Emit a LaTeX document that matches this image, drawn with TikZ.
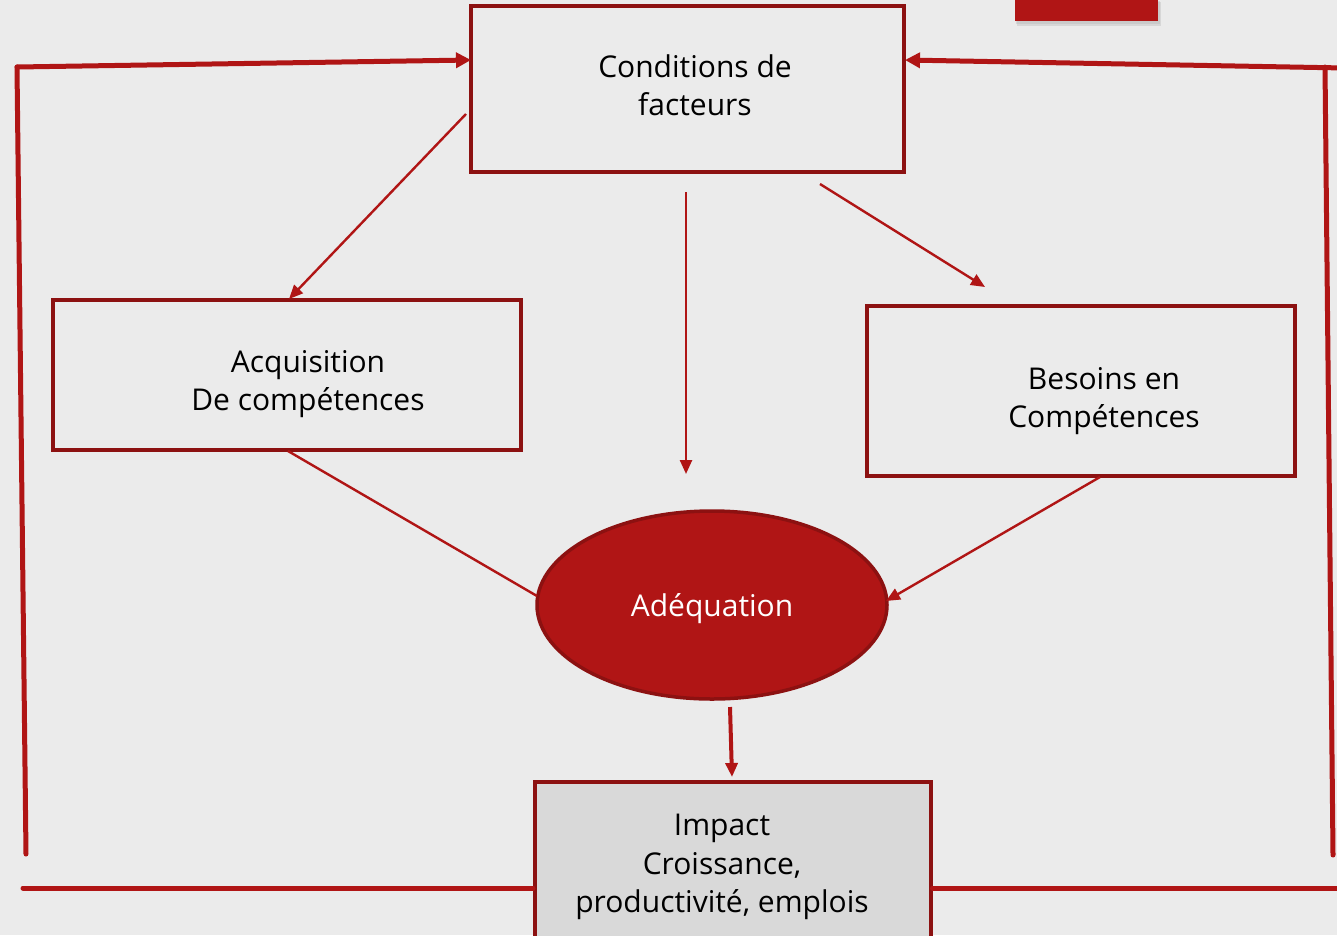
\documentclass[tikz,border=0pt]{standalone}
\usepackage{fontspec}
\setmainfont{Open Sans}
\usetikzlibrary{shapes.geometric,arrows.meta}
\definecolor{bg}{HTML}{EBEBEB}
\definecolor{boxred}{HTML}{8C1111}
\definecolor{linered}{HTML}{B01515}
\definecolor{impactfill}{HTML}{D9D9D9}
\tikzset{
  boxstyle/.style={draw=boxred, line width=3.5pt, fill=bg, rectangle, inner sep=0pt},
  lbl/.style={font=\fontsize{30}{38.5}\selectfont, align=center, text=black},
  conn/.style={draw=linered, line width=2.4pt, -{Triangle[length=14pt,width=12pt]}},
  plainconn/.style={draw=linered, line width=2.4pt},
  loop/.style={draw=linered, line width=5pt, line cap=round},
  looparrow/.style={draw=linered, line width=5pt, line cap=round, -{Triangle[length=15pt,width=15pt]}},
}
\begin{document}
\begin{tikzpicture}[x=1pt,y=-1pt]
\useasboundingbox (0,0) rectangle (1337,935);
\fill[bg] (0,0) rectangle (1337,935);
\begin{scope}
\clip (0,0) rectangle (1337,935);
% top-right tab with shadow
\fill[black!30, opacity=0.35] (1017,2) rectangle (1161,26);
\fill[black!30, opacity=0.35] (1016,1) rectangle (1160,24);
\fill[linered] (1015,-2) rectangle (1158,21);
% boxes
\node[boxstyle, minimum width=433pt, minimum height=166pt] (cond) at (687.5,89) {};
\node[lbl] (condt) at (695,85) {Conditions de\\facteurs};
\node[boxstyle, minimum width=468pt, minimum height=150pt] (acq) at (287,375) {};
\node[lbl] (acqt) at (308,384) {Acquisition\\De compétences};
\node[boxstyle, minimum width=428pt, minimum height=170pt] (bes) at (1081,391) {};
\node[lbl] (best) at (1104,401) {Besoins en\\Compétences};
\node[ellipse, draw=boxred, line width=3.5pt, fill=linered, minimum width=350pt, minimum height=188pt, inner sep=0pt] (adeq) at (712,605) {};
\node[lbl, text=white] (adeqt) at (712,609) {Adéquation};
\node[boxstyle, fill=impactfill, minimum width=396pt, minimum height=170pt, anchor=north west] (imp) at (533,780) {};
\node[lbl] (impt) at (722,867) {Impact\\Croissance,\\productivité, emplois};
% connector endpoints
\coordinate (c1s) at (466,114); \coordinate (c1e) at (289,299);
\coordinate (c2s) at (686,192); \coordinate (c2e) at (686,474);
\coordinate (c3s) at (820,184); \coordinate (c3e) at (985,287);
\coordinate (c4s) at (288,451); \coordinate (c4e) at (537,596);
\coordinate (c5s) at (1100,477); \coordinate (c5e) at (886,601);
\coordinate (c6s) at (730,707); \coordinate (c6e) at (732,777);
\draw[conn] (c1s) -- (c1e);
\draw[conn] (c2s) -- (c2e);
\draw[conn] (c3s) -- (c3e);
\draw[plainconn] (c4s) -- (c4e);
\draw[conn] (c5s) -- (c5e);
\draw[conn, line width=4pt] (c6s) -- (c6e);
% feedback loops
\coordinate (lb) at (26,854); \coordinate (lt) at (17,67); \coordinate (la) at (471,60);
\coordinate (rb) at (1333,855); \coordinate (rt) at (1325,67); \coordinate (rr) at (1345,68); \coordinate (ra) at (905,60);
\draw[loop] (lb) -- (lt);
\draw[looparrow] (lt) -- (la);
\draw[loop] (rb) -- (rt);
\draw[looparrow] (rr) -- (ra);
\coordinate (bl) at (23,888); \coordinate (br) at (1345,888);
\draw[loop] (bl) -- (imp.west |- bl);
\draw[loop] (imp.east |- br) -- (br);
\end{scope}
\end{tikzpicture}
\end{document}
